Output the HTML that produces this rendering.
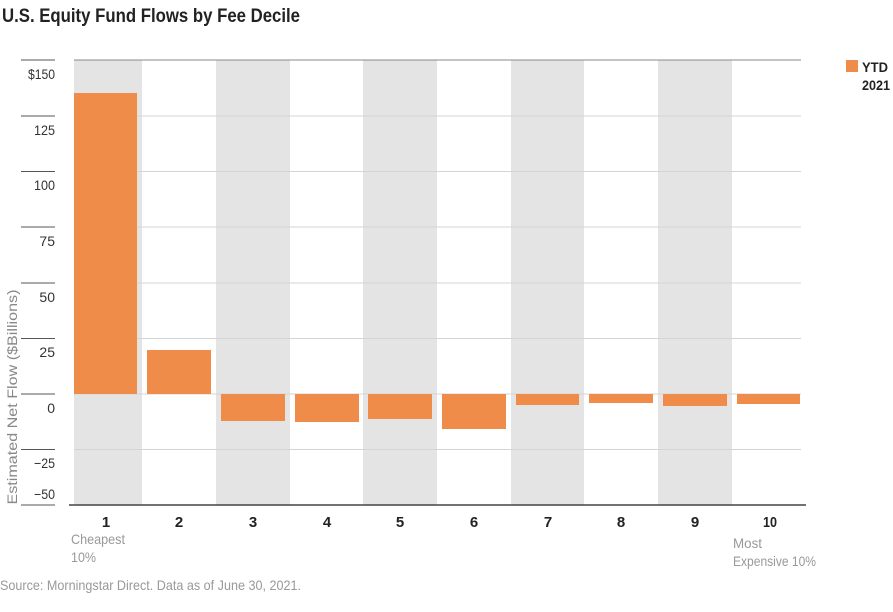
<!DOCTYPE html>
<html><head><meta charset="utf-8"><style>
body{margin:0;background:#fff;width:893px;height:607px;overflow:hidden}
svg{font-family:"Liberation Sans Narrow","Liberation Sans",sans-serif}
</style></head><body>
<svg width="893" height="607" viewBox="0 0 893 607">
<text x="2" y="22" font-size="19" font-weight="bold" fill="#222" textLength="298" lengthAdjust="spacingAndGlyphs">U.S. Equity Fund Flows by Fee Decile</text>
<g fill="#e4e4e4">
<rect x="74" y="60" width="68" height="445"/>
<rect x="216" y="60" width="74" height="445"/>
<rect x="363" y="60" width="74" height="445"/>
<rect x="511" y="60" width="73" height="445"/>
<rect x="658" y="60" width="74" height="445"/>
</g>
<g stroke="#d4d4d4" stroke-width="1">
<line x1="74" x2="801" y1="116" y2="116"/>
<line x1="74" x2="801" y1="171.5" y2="171.5"/>
<line x1="74" x2="801" y1="227" y2="227"/>
<line x1="74" x2="801" y1="283" y2="283"/>
<line x1="74" x2="801" y1="338.5" y2="338.5"/>
<line x1="74" x2="801" y1="394" y2="394"/>
<line x1="74" x2="801" y1="449.5" y2="449.5"/>
</g>
<line x1="74" x2="801" y1="60" y2="60" stroke="#888" stroke-width="1"/>
<g stroke="#555" stroke-width="1">
<line x1="21" x2="55" y1="60" y2="60"/><line x1="21" x2="55" y1="116" y2="116"/>
<line x1="21" x2="55" y1="171.5" y2="171.5"/><line x1="21" x2="55" y1="227" y2="227"/>
<line x1="21" x2="55" y1="283" y2="283"/><line x1="21" x2="55" y1="338.5" y2="338.5"/>
<line x1="21" x2="55" y1="394" y2="394"/><line x1="21" x2="55" y1="449.5" y2="449.5"/>
<line x1="21" x2="55" y1="505" y2="505"/>
</g>
<line x1="69" x2="806" y1="505" y2="505" stroke="#444" stroke-width="1.5"/>
<g font-size="14" fill="#333" text-anchor="end">
<text x="55" y="79" textLength="27" lengthAdjust="spacingAndGlyphs">$150</text>
<text x="55" y="135" textLength="21" lengthAdjust="spacingAndGlyphs">125</text>
<text x="55" y="190" textLength="21" lengthAdjust="spacingAndGlyphs">100</text>
<text x="55" y="246">75</text>
<text x="55" y="302">50</text><text x="55" y="357">25</text>
<text x="55" y="413">0</text>
<text x="55" y="468" textLength="21" lengthAdjust="spacingAndGlyphs">−25</text>
<text x="55" y="499" textLength="21" lengthAdjust="spacingAndGlyphs">−50</text>
</g>
<text transform="translate(17,397) rotate(-90)" font-size="14" fill="#888" text-anchor="middle" textLength="215" lengthAdjust="spacingAndGlyphs">Estimated Net Flow ($Billions)</text>
<g fill="#ef8c4a">
<rect x="74" y="93" width="63" height="301"/>
<rect x="147" y="350" width="64" height="44"/>
<rect x="221" y="394" width="64" height="27"/>
<rect x="295" y="394" width="64" height="28"/>
<rect x="368" y="394" width="64" height="25"/>
<rect x="442" y="394" width="64" height="35"/>
<rect x="516" y="394" width="63" height="11"/>
<rect x="589" y="394" width="64" height="9"/>
<rect x="663" y="394" width="64" height="12"/>
<rect x="737" y="394" width="63" height="10"/>
</g>
<g font-size="15" font-weight="bold" fill="#222" text-anchor="middle">
<text x="106" y="527">1</text><text x="179" y="527">2</text><text x="253" y="527">3</text>
<text x="327" y="527">4</text><text x="400" y="527">5</text><text x="474" y="527">6</text>
<text x="548" y="527">7</text><text x="621" y="527">8</text><text x="695" y="527">9</text>
<text x="770" y="527" textLength="14" lengthAdjust="spacingAndGlyphs">10</text>
</g>
<g font-size="14" fill="#999">
<text x="71" y="544" textLength="54" lengthAdjust="spacingAndGlyphs">Cheapest</text>
<text x="71" y="562" textLength="25" lengthAdjust="spacingAndGlyphs">10%</text>
<text x="733" y="548" textLength="29" lengthAdjust="spacingAndGlyphs">Most</text>
<text x="733" y="566" textLength="83" lengthAdjust="spacingAndGlyphs">Expensive 10%</text>
<text x="0" y="590" textLength="301" lengthAdjust="spacingAndGlyphs">Source: Morningstar Direct. Data as of June 30, 2021.</text>
</g>
<rect x="846" y="60" width="12" height="12" fill="#ef8c4a"/>
<text x="862" y="72" font-size="14" font-weight="bold" fill="#222" textLength="26" lengthAdjust="spacingAndGlyphs">YTD</text>
<text x="862" y="90" font-size="14" font-weight="bold" fill="#222" textLength="28" lengthAdjust="spacingAndGlyphs">2021</text>
</svg>
</body></html>
